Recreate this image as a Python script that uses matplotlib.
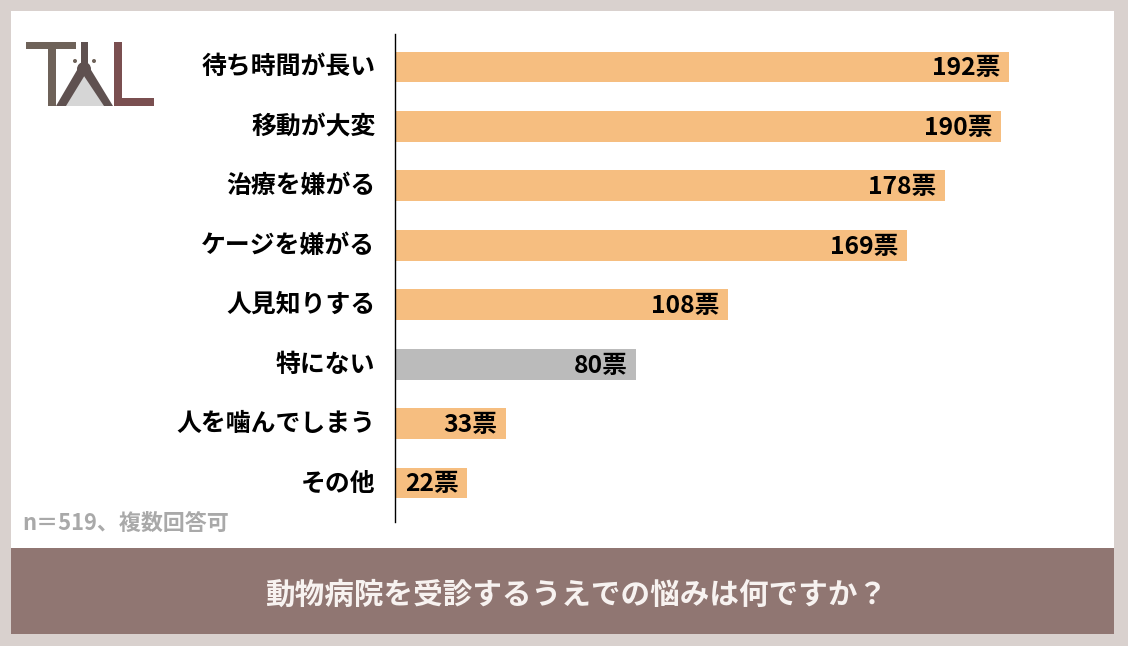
import matplotlib
matplotlib.use('Agg')
import matplotlib.pyplot as plt
from matplotlib.patches import Rectangle, Polygon, Circle
from matplotlib.transforms import ScaledTranslation

plt.rcParams['font.family'] = ['Noto Sans CJK JP', 'DejaVu Sans']

categories = ['待ち時間が長い', '移動が大変', '治療を嫌がる', 'ケージを嫌がる',
              '人見知りする', '特にない', '人を噛んでしまう', 'その他']
# printed labels
votes = [192, 190, 178, 169, 108, 80, 33, 22]
# bar lengths as drawn in the picture, they don't quite follow the printed labels
bar_lengths = [192, 189.5, 172, 160, 104, 75.5, 34.7, 22.5]
bar_colors = ['#F6BE80', '#F6BE80', '#F6BE80', '#F6BE80',
              '#F6BE80', '#BBBBBB', '#F6BE80', '#F6BE80']

W, H = 1128, 646
fig = plt.figure(figsize=(W / 100, H / 100), dpi=100, facecolor='#D9D1CE')

# Background panel, banner and logo in pixel coordinates
bg = fig.add_axes([0, 0, 1, 1])
bg.set_xlim(0, W)
bg.set_ylim(H, 0)
bg.axis('off')
bg.add_patch(Rectangle((11, 11), 1103, 537, color='white', lw=0))
bg.add_patch(Rectangle((11, 548), 1103, 86, color='#907672', lw=0))
bg.text(576, 594.5, '動物病院を受診するうえでの悩みは何ですか？', color='#F7F2F0',
        fontsize=21.3, fontweight='bold', ha='center', va='center')
bg.text(22, 523, 'n＝519、複数回答可', color='#A9A9A9', fontsize=15.8,
        fontweight='bold', ha='left', va='center')

# Logo
bg.add_patch(Polygon([(84, 66), (62, 106), (106, 106)], color='#D6D6D6', lw=0))
bg.add_patch(Rectangle((26, 42), 50, 7, color='#6E6259', lw=0))
bg.add_patch(Rectangle((48, 42), 8, 64, color='#6E6259', lw=0))
bg.add_patch(Rectangle((81, 42), 7, 26, color='#5F5150', lw=0))
bg.add_patch(Polygon([(80, 65), (88, 70), (66, 106), (56, 106)], color='#5F5150', lw=0))
bg.add_patch(Polygon([(80, 70), (88, 65), (113, 106), (104, 106)], color='#5F5150', lw=0))
bg.add_patch(Circle((84, 69), 7, color='#5F5150', lw=0))
bg.add_patch(Circle((75, 61), 2, color='#6E6259', lw=0))
bg.add_patch(Circle((94, 61), 2, color='#6E6259', lw=0))
bg.add_patch(Rectangle((114, 42), 8, 64, color='#7A4F50', lw=0))
bg.add_patch(Rectangle((114, 98), 40, 8, color='#7A4F50', lw=0))

# Bar chart
ax = fig.add_axes([395 / W, 1 - 521.5 / H, 700 / W, 487.5 / H])
ax.patch.set_alpha(0)
y_pos = list(range(len(categories)))
ax.barh(y_pos, bar_lengths, height=0.52, color=bar_colors)
ax.set_xlim(0, 700 / 3.198)
ax.set_ylim(7.647, -0.555)
ax.set_yticks(y_pos)
ax.set_yticklabels(categories, fontsize=17.9, fontweight='bold', color='black')
ax.tick_params(axis='y', length=0, pad=14)
ax.set_xticks([])
for side in ['top', 'right', 'bottom']:
    ax.spines[side].set_visible(False)
ax.spines['left'].set_linewidth(1)
ax.spines['left'].set_color('black')

# category labels sit a little higher than the bars
shift_up = ScaledTranslation(0, 1.5 / 72, fig.dpi_scale_trans)
for lab in ax.get_yticklabels():
    lab.set_transform(lab.get_transform() + shift_up)

for y, v, w in zip(y_pos, votes, bar_lengths):
    ax.annotate(f'{v}票', (w, y), xytext=(-6, -1), textcoords='offset points',
                ha='right', va='center', fontsize=17.8, fontweight='bold', color='black')

fig.savefig('out.png', dpi=100, facecolor=fig.get_facecolor())
